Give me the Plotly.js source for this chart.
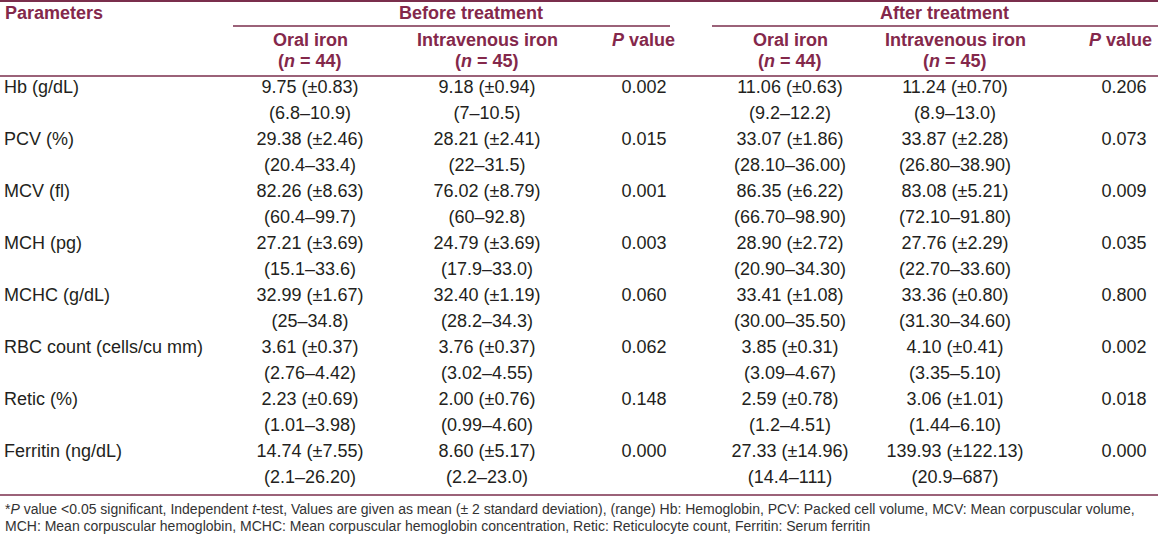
<!DOCTYPE html>
<html>
<head>
<meta charset="utf-8">
<script src="https://cdn.plot.ly/plotly-3.0.1.min.js"></script>
<style>html,body{margin:0;padding:0;background:#fff;}#chart{width:1158px;height:538px;}</style>
</head>
<body>
<div id="chart"></div>
<script>
// ---- data ----
const params = ["Hb (g/dL)","PCV (%)","MCV (fl)","MCH (pg)","MCHC (g/dL)","RBC count (cells/cu mm)","Retic (%)","Ferritin (ng/dL)"];
const beforeOralMean = ["9.75","29.38","82.26","27.21","32.99","3.61","2.23","14.74"];
const beforeOralSD = ["0.83","2.46","8.63","3.69","1.67","0.37","0.69","7.55"];
const beforeOralRange = ["6.8–10.9","20.4–33.4","60.4–99.7","15.1–33.6","25–34.8","2.76–4.42","1.01–3.98","2.1–26.20"];
const beforeIVMean = ["9.18","28.21","76.02","24.79","32.40","3.76","2.00","8.60"];
const beforeIVSD = ["0.94","2.41","8.79","3.69","1.19","0.37","0.76","5.17"];
const beforeIVRange = ["7–10.5","22–31.5","60–92.8","17.9–33.0","28.2–34.3","3.02–4.55","0.99–4.60","2.2–23.0"];
const beforeP = ["0.002","0.015","0.001","0.003","0.060","0.062","0.148","0.000"];
const afterOralMean = ["11.06","33.07","86.35","28.90","33.41","3.85","2.59","27.33"];
const afterOralSD = ["0.63","1.86","6.22","2.72","1.08","0.31","0.78","14.96"];
const afterOralRange = ["9.2–12.2","28.10–36.00","66.70–98.90","20.90–34.30","30.00–35.50","3.09–4.67","1.2–4.51","14.4–111"];
const afterIVMean = ["11.24","33.87","83.08","27.76","33.36","4.10","3.06","139.93"];
const afterIVSD = ["0.70","2.28","5.21","2.29","0.80","0.41","1.01","122.13"];
const afterIVRange = ["8.9–13.0","26.80–38.90","72.10–91.80","22.70–33.60","31.30–34.60","3.35–5.10","1.44–6.10","20.9–687"];
const afterP = ["0.206","0.073","0.009","0.035","0.800","0.002","0.018","0.000"];
const groupHeaders = ["Before treatment","After treatment"];
const colHeaders = ["Oral iron","Intravenous iron"];
const groupN = ["44","45"];
const footnote = ["*<i>P</i> value <0.05 significant, Independent <i>t</i>-test, Values are given as mean (± 2 standard deviation), (range) Hb: Hemoglobin, PCV: Packed cell volume, MCV: Mean corpuscular volume,",
  "MCH: Mean corpuscular hemoglobin, MCHC: Mean corpuscular hemoglobin concentration, Retic: Reticulocyte count, Ferritin: Serum ferritin"];

// ---- layout constants ----
const W = 1158, H = 538;
const FONT = "Liberation Sans, Arial, Helvetica, sans-serif";
const HEAD = "#84284b";
const LINE = "#7a2e4c";
const TXT = "#231f20";
const rowY0 = 88, rowStep = 52, sub = 26;
const colX = {param: 4, bOral: 310, bIV: 487, bP: 644, aOral: 790, aIV: 955, aP: 1124};

const meanY = params.map((_, i) => rowY0 + i * rowStep);
const rangeY = meanY.map(y => y + sub);
const fmtMean = (m, s) => m.map((v, i) => v + " (±" + s[i] + ")");
const fmtRange = r => r.map(v => "(" + v + ")");
const bodyFont = {family: FONT, size: 18, color: TXT};

function textTrace(x, ys, texts, pos) {
  return {type: "scatter", mode: "text", x: ys.map(() => x), y: ys, text: texts,
    textposition: pos || "middle center", textfont: bodyFont, hoverinfo: "skip",
    showlegend: false, cliponaxis: false};
}

const traces = [
  textTrace(colX.param, meanY, params, "middle right"),
  textTrace(colX.bOral, meanY, fmtMean(beforeOralMean, beforeOralSD)),
  textTrace(colX.bOral, rangeY, fmtRange(beforeOralRange)),
  textTrace(colX.bIV, meanY, fmtMean(beforeIVMean, beforeIVSD)),
  textTrace(colX.bIV, rangeY, fmtRange(beforeIVRange)),
  textTrace(colX.bP, meanY, beforeP),
  textTrace(colX.aOral, meanY, fmtMean(afterOralMean, afterOralSD)),
  textTrace(colX.aOral, rangeY, fmtRange(afterOralRange)),
  textTrace(colX.aIV, meanY, fmtMean(afterIVMean, afterIVSD)),
  textTrace(colX.aIV, rangeY, fmtRange(afterIVRange)),
  textTrace(colX.aP, meanY, afterP)
];

const headFont = {family: FONT, size: 18, color: HEAD};
function ann(x, y, text, xanchor, font) {
  return {xref: "x", yref: "y", x: x, y: y, text: text, showarrow: false,
    xanchor: xanchor || "center", yanchor: "middle", font: font || headFont};
}
const footFont = {family: FONT, size: 14, color: "#333"};
const annotations = [
  ann(3, 13, "<b>Parameters</b>", "left"),
  ann(471, 13, "<b>" + groupHeaders[0] + "</b>"),
  ann(944, 13, "<b>" + groupHeaders[1] + "</b>"),
  ann(colX.bOral, 40, "<b>" + colHeaders[0] + "</b>"),
  ann(colX.bOral, 61, "<b>(<i>n</i> = " + groupN[0] + ")</b>"),
  ann(colX.bIV, 40, "<b>" + colHeaders[1] + "</b>"),
  ann(colX.bIV, 61, "<b>(<i>n</i> = " + groupN[1] + ")</b>"),
  ann(677, 40, "<b><i>P</i> value</b>", "right"),
  ann(colX.aOral, 40, "<b>" + colHeaders[0] + "</b>"),
  ann(colX.aOral, 61, "<b>(<i>n</i> = " + groupN[0] + ")</b>"),
  ann(colX.aIV, 40, "<b>" + colHeaders[1] + "</b>"),
  ann(colX.aIV, 61, "<b>(<i>n</i> = " + groupN[1] + ")</b>"),
  ann(1154, 40, "<b><i>P</i> value</b>", "right"),
  ann(3, 509, footnote[0], "left", footFont),
  ann(3, 526, footnote[1], "left", footFont)
];

function hline(x0, x1, y, w) {
  return {type: "line", xref: "x", yref: "y", x0: x0, x1: x1, y0: y, y1: y,
    line: {color: LINE, width: w || 1.5}};
}
const shapes = [
  hline(0, W, 1, 2),
  hline(233, 670, 26),
  hline(712, W, 26),
  hline(0, W, 76),
  hline(0, W, 495)
];

const layout = {
  width: W, height: H,
  margin: {l: 0, r: 0, t: 0, b: 0, pad: 0},
  paper_bgcolor: "#fff", plot_bgcolor: "#fff",
  xaxis: {range: [0, W], visible: false, fixedrange: true},
  yaxis: {range: [H, 0], visible: false, fixedrange: true},
  annotations: annotations, shapes: shapes, showlegend: false
};
Plotly.newPlot("chart", traces, layout, {staticPlot: true, displayModeBar: false});
</script>
</body>
</html>
